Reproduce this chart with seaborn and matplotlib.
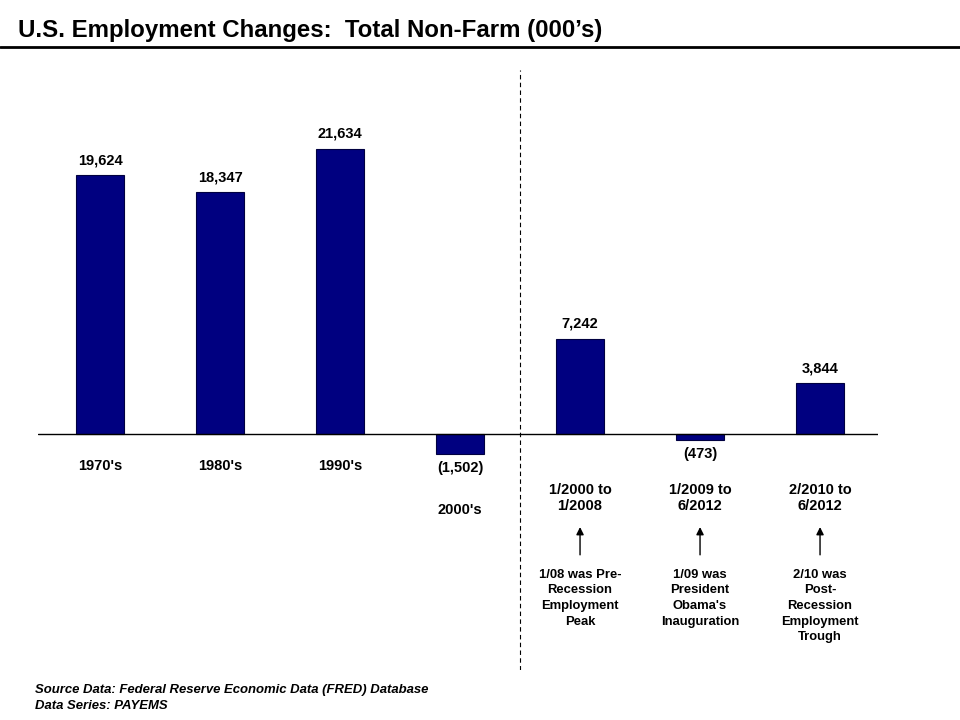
import matplotlib
matplotlib.use("Agg")
import matplotlib.pyplot as plt
import seaborn as sns
import pandas as pd

categories = ["1970's", "1980's", "1990's", "2000's",
              "1/2000 to\n1/2008", "1/2009 to\n6/2012", "2/2010 to\n6/2012"]
values = [19624, 18347, 21634, -1502, 7242, -473, 3844]
notes = ["", "", "", "", "1/08 was Pre-\nRecession\nEmployment\nPeak",
         "1/09 was\nPresident\nObama's\nInauguration",
         "2/10 was\nPost-\nRecession\nEmployment\nTrough"]

sns.set_style("white")
plt.rcParams['font.family'] = ['Liberation Sans', 'DejaVu Sans']
plt.rcParams['text.color'] = 'black'

fig = plt.figure(figsize=(9.6, 7.2), dpi=100)
ax = fig.add_axes([38/960, 50/720, 840/960, 600/720])

df = pd.DataFrame({"cat": categories, "val": values})
sns.barplot(data=df, x="cat", y="val", color="#000080", width=0.4,
            edgecolor="#000040", linewidth=0.8, saturation=1, ax=ax)

ax.set_xlim(-0.517, 6.483)
ax.set_ylim(-17912, 27628)
for s in ax.spines.values():
    s.set_visible(False)
ax.set_xticks([])
ax.set_yticks([])
ax.set_xlabel("")
ax.set_ylabel("")
ax.axhline(0, color="black", lw=1.0, zorder=3)
ax.axvline(3.5, color="black", lw=0.8, ls=(0, (4, 3)), zorder=1)

def fmt(v):
    s = f"{abs(v):,}"
    return f"({s})" if v < 0 else s

FS = 10.5
for i, v in enumerate(values):
    if v >= 0:
        ax.annotate(fmt(v), xy=(i, v), xytext=(0, 11), textcoords="offset points",
                    ha="center", va="center", fontsize=FS, fontweight="bold")
    else:
        ax.annotate(fmt(v), xy=(i, v), xytext=(0, -10), textcoords="offset points",
                    ha="center", va="center", fontsize=FS, fontweight="bold")
    if i < 3:
        ax.annotate(categories[i], xy=(i, 0), xytext=(0, -23), textcoords="offset points",
                    ha="center", va="center", fontsize=FS, fontweight="bold")
    elif i == 3:
        ax.annotate(categories[i], xy=(i, 0), xytext=(0, -54.5), textcoords="offset points",
                    ha="center", va="center", fontsize=FS, fontweight="bold")
    else:
        ax.annotate(categories[i], xy=(i, 0), xytext=(0, -46), textcoords="offset points",
                    ha="center", va="center", fontsize=FS, fontweight="bold",
                    linespacing=1.15)
        ax.annotate("", xy=(i, 0), xytext=(0, -87), textcoords="offset points",
                    arrowprops=dict(arrowstyle="-|>", color="black", lw=1,
                                    shrinkA=0, shrinkB=67, mutation_scale=11))
        ax.annotate(notes[i], xy=(i, 0), xytext=(0, -97), textcoords="offset points",
                    ha="center", va="top", fontsize=9.4, fontweight="bold",
                    linespacing=1.4)

fig.text(18/960, 1 - 30/720, "U.S. Employment Changes:  Total Non-Farm (000\u2019s)",
         ha="left", va="center", fontsize=17.3, fontweight="bold")
fig.add_artist(plt.Line2D([0, 1], [1 - 47/720, 1 - 47/720], color="black", lw=2,
                          transform=fig.transFigure))
fig.text(35/960, 1 - 690/720, "Source Data: Federal Reserve Economic Data (FRED) Database",
         ha="left", va="center", fontsize=9.45, fontweight="bold", style="italic")
fig.text(35/960, 1 - 706/720, "Data Series: PAYEMS",
         ha="left", va="center", fontsize=9.45, fontweight="bold", style="italic")

fig.savefig("out.png", dpi=100)
